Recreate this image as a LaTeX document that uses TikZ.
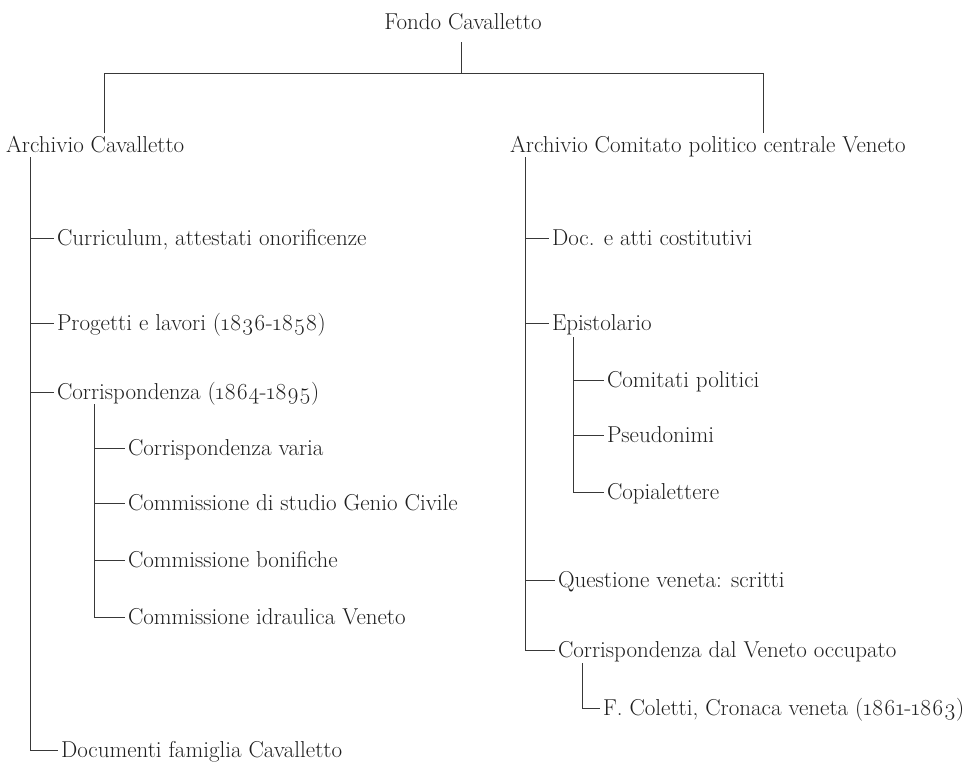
\documentclass[tikz,border=0pt]{standalone}
\usepackage{fontspec}
\setmainfont{Latin Modern Roman}[Numbers=OldStyle]
\begin{document}
\begin{tikzpicture}[x=1pt,y=1pt,
  lbl/.style={inner sep=0pt, outer sep=3pt, text height=16pt, text depth=2pt, font=\fontsize{23}{26}\selectfont, text=black!88},
  kid/.style={lbl, anchor=west},
  conn/.style={line width=0.95pt, draw=black!78}]
\useasboundingbox (0,0) rectangle (966,-761);
% top level
\node[lbl, anchor=base] (root) at (463,-29) {Fondo Cavalletto};
\node[lbl, anchor=base west] (a1) at (3,-152) {Archivio Cavalletto};
\node[lbl, anchor=base west] (a2) at (507,-152) {Archivio Comitato politico centrale Veneto};
\coordinate (bar) at (461,-73);
\coordinate (barL) at (104,-73);
\coordinate (barR) at (763,-73);
\draw[conn] (461,-42) coordinate (stem) -- (bar);
\draw[conn] (barL |- a1.north) -- (barL) -- (barR) -- (barR |- a2.north);
% left branch
\coordinate (tL) at (30.7,-157);
\node[kid] (l1) at (54,-238) {Curriculum, attestati onorificenze};
\node[kid] (l2) at (54,-323) {Progetti e lavori (1836-1858)};
\node[kid] (l3) at (54,-392) {Corrispondenza (1864-1895)};
\node[kid] (l4) at (58,-750) {Documenti famiglia Cavalletto};
\draw[conn] (tL) |- (l4.west);
\draw[conn] (tL |- l1.west) -- (l1.west);
\draw[conn] (tL |- l2.west) -- (l2.west);
\draw[conn] (tL |- l3.west) -- (l3.west);
\coordinate (tL3) at (94.3,-404);
\node[kid] (l31) at (125,-448) {Corrispondenza varia};
\node[kid] (l32) at (125,-503) {Commissione di studio Genio Civile};
\node[kid] (l33) at (125,-560) {Commissione bonifiche};
\node[kid] (l34) at (125,-617) {Commissione idraulica Veneto};
\draw[conn] (tL3) |- (l34.west);
\draw[conn] (tL3 |- l31.west) -- (l31.west);
\draw[conn] (tL3 |- l32.west) -- (l32.west);
\draw[conn] (tL3 |- l33.west) -- (l33.west);
% right branch
\coordinate (tR) at (525,-157);
\node[kid] (r1) at (549,-238) {Doc. e atti costitutivi};
\node[kid] (r2) at (549,-323) {Epistolario};
\node[kid] (r3) at (555,-580) {Questione veneta: scritti};
\node[kid] (r4) at (555,-650) {Corrispondenza dal Veneto occupato};
\draw[conn] (tR) |- (r4.west);
\draw[conn] (tR |- r1.west) -- (r1.west);
\draw[conn] (tR |- r2.west) -- (r2.west);
\draw[conn] (tR |- r3.west) -- (r3.west);
\coordinate (tR2) at (573,-337);
\node[kid] (r21) at (604,-380) {Comitati politici};
\node[kid] (r22) at (604,-435) {Pseudonimi};
\node[kid] (r23) at (604,-492) {Copialettere};
\draw[conn] (tR2) |- (r23.west);
\draw[conn] (tR2 |- r21.west) -- (r21.west);
\draw[conn] (tR2 |- r22.west) -- (r22.west);
\coordinate (tR4) at (582,-663);
\node[kid] (r41) at (600,-708) {F. Coletti, Cronaca veneta (1861-1863)};
\draw[conn] (tR4) |- (r41.west);
\end{tikzpicture}
\end{document}
